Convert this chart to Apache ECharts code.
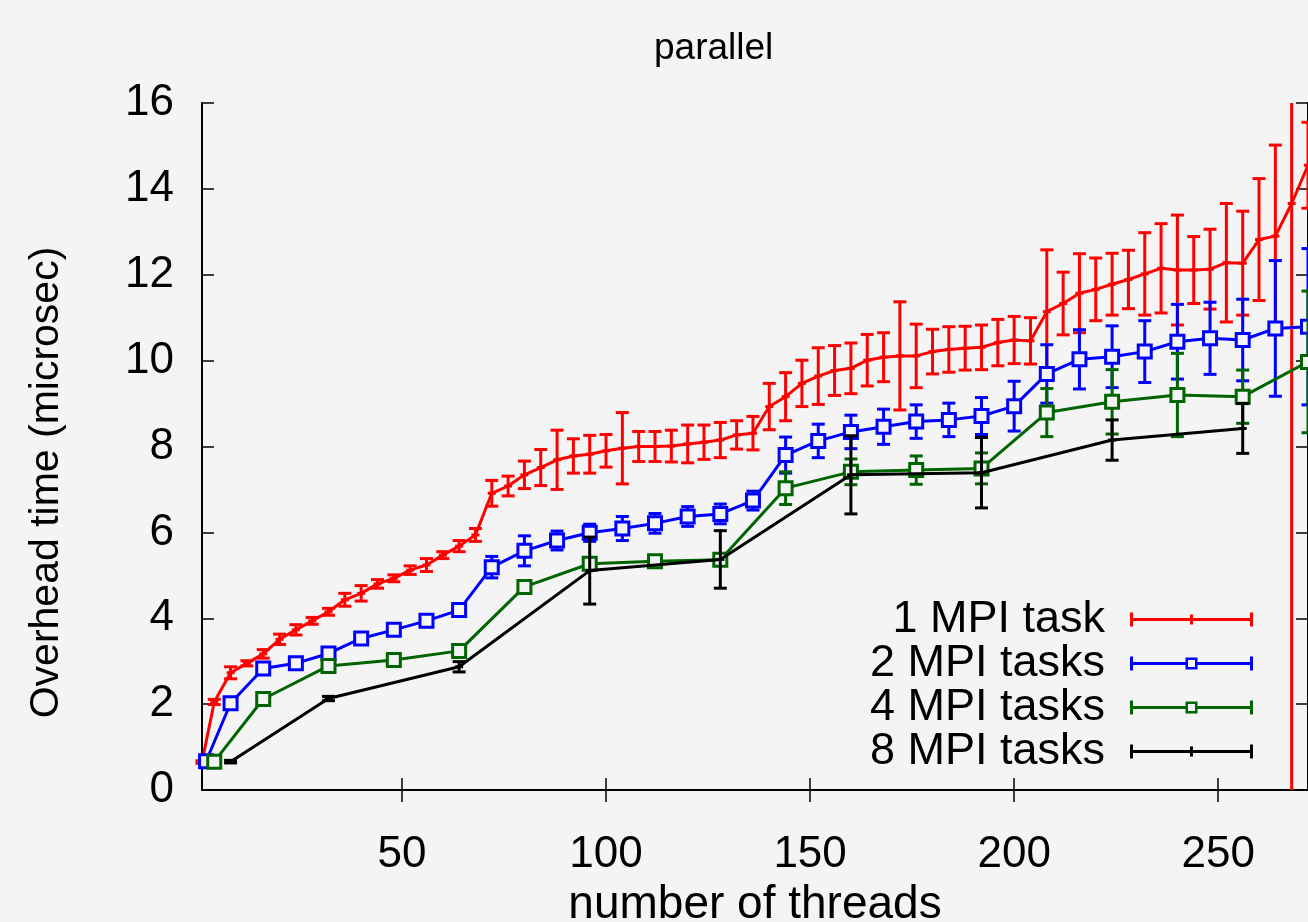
<!DOCTYPE html>
<html><head><meta charset="utf-8">
<script src="https://cdn.jsdelivr.net/npm/echarts@6/dist/echarts.min.js"></script>
<style>html,body{margin:0;padding:0;background:#f4f4f4}#c{width:1308px;height:922px}</style>
</head><body><div id="c"></div>
<script>
const titleText = 'parallel';
const xAxisTitle = 'number of threads';
const yAxisTitle = 'Overhead time (microsec)';
const xTickValues = [50, 100, 150, 200, 250];
const seriesNames = ['1 MPI task', '2 MPI tasks', '4 MPI tasks', '8 MPI tasks'];
const seriesColors = ['#ff0000', '#0000ff', '#006400', '#000000'];

const threads1 = [1,4,8,12,16,20,24,28,32,36,40,44,48,52,56,60,64,68,72,76,80,84,88,92,96,100,104,108,112,116,120,124,128,132,136,140,144,148,152,156,160,164,168,172,176,180,184,188,192,196,200,204,208,212,216,220,224,228,232,236,240,244,248,252,256,260,264,268,272];
const time1 = [0.65,2.05,2.73,2.95,3.17,3.51,3.73,3.94,4.15,4.43,4.58,4.80,4.93,5.12,5.24,5.47,5.68,5.94,6.91,7.08,7.34,7.51,7.69,7.78,7.82,7.90,7.96,8.00,8.00,8.01,8.06,8.10,8.15,8.27,8.31,8.93,9.16,9.47,9.64,9.77,9.82,10.01,10.08,10.11,10.11,10.21,10.26,10.29,10.31,10.42,10.48,10.46,11.14,11.33,11.57,11.66,11.78,11.89,12.02,12.15,12.11,12.11,12.13,12.28,12.27,12.82,12.90,13.66,14.55];
const err1 = [0.03,0.06,0.14,0.06,0.10,0.12,0.12,0.08,0.08,0.15,0.18,0.10,0.08,0.10,0.15,0.08,0.13,0.15,0.30,0.23,0.32,0.42,0.69,0.40,0.44,0.38,0.83,0.35,0.35,0.37,0.44,0.40,0.41,0.33,0.39,0.54,0.56,0.54,0.66,0.58,0.59,0.60,0.57,1.26,0.74,0.52,0.53,0.51,0.52,0.54,0.55,0.54,1.44,0.73,0.92,0.73,0.72,0.68,0.96,1.04,1.28,0.78,0.93,1.38,1.21,1.42,2.12,16.0,1.00];

const threads2 = [2,8,16,24,32,40,48,56,64,72,80,88,96,104,112,120,128,136,144,152,160,168,176,184,192,200,208,216,224,232,240,248,256,264,272];
const time2 = [0.67,2.02,2.83,2.95,3.18,3.53,3.73,3.94,4.19,5.19,5.57,5.81,5.99,6.09,6.21,6.37,6.43,6.74,7.80,8.13,8.34,8.46,8.58,8.62,8.71,8.94,9.69,10.03,10.09,10.21,10.44,10.52,10.48,10.75,10.79];
const err2 = [0.03,0.06,0.08,0.05,0.06,0.06,0.05,0.05,0.06,0.25,0.35,0.22,0.20,0.28,0.23,0.23,0.23,0.22,0.42,0.39,0.39,0.41,0.39,0.39,0.43,0.58,0.68,0.69,0.72,0.72,0.87,0.84,0.95,1.58,1.82];

const threads4 = [4,16,32,48,64,80,96,112,128,144,160,176,192,208,224,240,256,272];
const time4 = [0.66,2.12,2.89,3.03,3.24,4.73,5.27,5.33,5.36,7.03,7.41,7.45,7.49,8.79,9.04,9.20,9.16,9.97];
const err4 = [0.03,0.05,0.05,0.05,0.06,0.05,0.07,0.05,0.06,0.38,0.30,0.33,0.36,0.56,0.75,0.97,0.62,1.65];

const threads8 = [8,32,64,96,128,160,192,224,256];
const time8 = [0.66,2.13,2.87,5.11,5.37,7.34,7.39,8.15,8.42];
const err8 = [0.03,0.05,0.12,0.78,0.67,0.91,0.82,0.47,0.58];

const X_MIN = 1, X_MAX = 272, Y_MIN = 0, Y_MAX = 16;
const FONT = '"Liberation Sans", Arial, Helvetica, sans-serif';
const FS = 44;
const BG = '#f4f4f4';
const LW = 3;

function errorBars(name, color, xs, ys, es, centerTick, z) {
  return {
    type: 'custom', name: name, z: z, silent: true,
    data: xs.map((x, i) => [x, ys[i], es[i]]),
    renderItem: function (params, api) {
      const x = api.value(0), y = api.value(1), e = api.value(2);
      const lo = Math.max(y - e, Y_MIN), hi = Math.min(y + e, Y_MAX);
      const pLo = api.coord([x, lo]), pHi = api.coord([x, hi]), pC = api.coord([x, y]);
      const w = 6.5;
      const style = { stroke: color, lineWidth: LW, fill: null };
      const ch = [{ type: 'line', shape: { x1: pLo[0], y1: pLo[1], x2: pHi[0], y2: pHi[1] }, style: style }];
      if (y + e <= Y_MAX) ch.push({ type: 'line', shape: { x1: pHi[0] - w, y1: pHi[1], x2: pHi[0] + w, y2: pHi[1] }, style: style });
      if (y - e >= Y_MIN) ch.push({ type: 'line', shape: { x1: pLo[0] - w, y1: pLo[1], x2: pLo[0] + w, y2: pLo[1] }, style: style });
      if (centerTick) ch.push({ type: 'line', shape: { x1: pC[0] - 4, y1: pC[1], x2: pC[0] + 4, y2: pC[1] }, style: style });
      return { type: 'group', children: ch };
    }
  };
}

function lineSeries(name, color, xs, ys, square, z) {
  return {
    type: 'line', name: name, z: z,
    data: xs.map((x, i) => [x, ys[i]]),
    lineStyle: { color: color, width: LW },
    symbol: square ? 'rect' : 'none',
    symbolSize: 13,
    itemStyle: { color: BG, borderColor: color, borderWidth: LW },
    showSymbol: square, animation: false
  };
}

// legend icons (itemWidth 123, itemHeight 14)
const barPlain = 'M0 0H3V14H0Z M120 0H123V14H120Z M0 5.5H123V8.5H0Z M60 2H63V12H60Z';
const barSquare = 'M0 0H3V14H0Z M120 0H123V14H120Z M0 5.5H55.5V8.5H0Z M67.5 5.5H123V8.5H67.5Z ' +
  'M55.5 1H67.5V3.5H55.5Z M55.5 10.5H67.5V13H55.5Z M55.5 1H58V13H55.5Z M65 1H67.5V13H65Z';
const legendIcons = ['path://' + barPlain, 'path://' + barSquare, 'path://' + barSquare, 'path://' + barPlain];

const chart = echarts.init(document.getElementById('c'), null, { renderer: 'canvas' });
chart.setOption({
  backgroundColor: BG,
  animation: false,
  title: { text: titleText, left: 649, top: 25, textStyle: { fontFamily: FONT, fontSize: 37, fontWeight: 'normal', color: '#000' } },
  grid: { left: 202, right: 0, top: 103, bottom: 132, containLabel: false, outerBoundsMode: 'none' },
  legend: {
    orient: 'vertical', right: 50, top: 592, itemGap: -1, itemWidth: 123, itemHeight: 14,
    align: 'right', selectedMode: false,
    textStyle: { fontFamily: FONT, fontSize: 45, color: '#000', lineHeight: 43, padding: [0, 20, 0, 0] },
    data: seriesNames.map((n, i) => ({ name: n, icon: legendIcons[i], itemStyle: { color: seriesColors[i], borderWidth: 0 } }))
  },
  xAxis: [{
    type: 'value', min: X_MIN, max: X_MAX, position: 'bottom',
    name: xAxisTitle, nameLocation: 'middle', nameGap: 92,
    nameTextStyle: { fontFamily: FONT, fontSize: 46, color: '#000' },
    axisLine: { show: true, lineStyle: { color: '#000', width: 2 } },
    axisTick: { show: true, inside: true, length: 12, customValues: xTickValues, lineStyle: { color: '#000', width: 1.5 } },
    axisLabel: { customValues: xTickValues, fontFamily: FONT, fontSize: FS, color: '#000', margin: 43 },
    splitLine: { show: false }
  }, {
    type: 'value', min: X_MIN, max: X_MAX, position: 'top',
    axisLine: { show: true, lineStyle: { color: '#000', width: 2 } },
    axisTick: { show: true, inside: true, length: 12, customValues: xTickValues, lineStyle: { color: '#000', width: 1.5 } },
    axisLabel: { show: false }, splitLine: { show: false }
  }],
  yAxis: [{
    type: 'value', min: Y_MIN, max: Y_MAX, interval: 2, position: 'left',
    name: yAxisTitle, nameLocation: 'middle', nameGap: 135,
    nameTextStyle: { fontFamily: FONT, fontSize: 41, color: '#000', padding: [0, 72, 0, 0] },
    axisLine: { show: true, lineStyle: { color: '#000', width: 2 } },
    axisTick: { show: true, inside: true, length: 12, lineStyle: { color: '#000', width: 1.5 } },
    axisLabel: { fontFamily: FONT, fontSize: FS, color: '#000', margin: 28 },
    splitLine: { show: false }
  }, {
    type: 'value', min: Y_MIN, max: Y_MAX, interval: 2, position: 'right',
    axisLine: { show: true, lineStyle: { color: '#000', width: 2 } },
    axisTick: { show: true, inside: true, length: 12, lineStyle: { color: '#000', width: 1.5 } },
    axisLabel: { show: false }, splitLine: { show: false }
  }],
  series: [
    lineSeries(seriesNames[0], seriesColors[0], threads1, time1, false, 2),
    errorBars(seriesNames[0], seriesColors[0], threads1, time1, err1, true, 2),
    lineSeries(seriesNames[1], seriesColors[1], threads2, time2, true, 3),
    errorBars(seriesNames[1], seriesColors[1], threads2, time2, err2, false, 3),
    lineSeries(seriesNames[2], seriesColors[2], threads4, time4, true, 4),
    errorBars(seriesNames[2], seriesColors[2], threads4, time4, err4, false, 4),
    lineSeries(seriesNames[3], seriesColors[3], threads8, time8, false, 5),
    errorBars(seriesNames[3], seriesColors[3], threads8, time8, err8, true, 5)
  ]
});
</script></body></html>
